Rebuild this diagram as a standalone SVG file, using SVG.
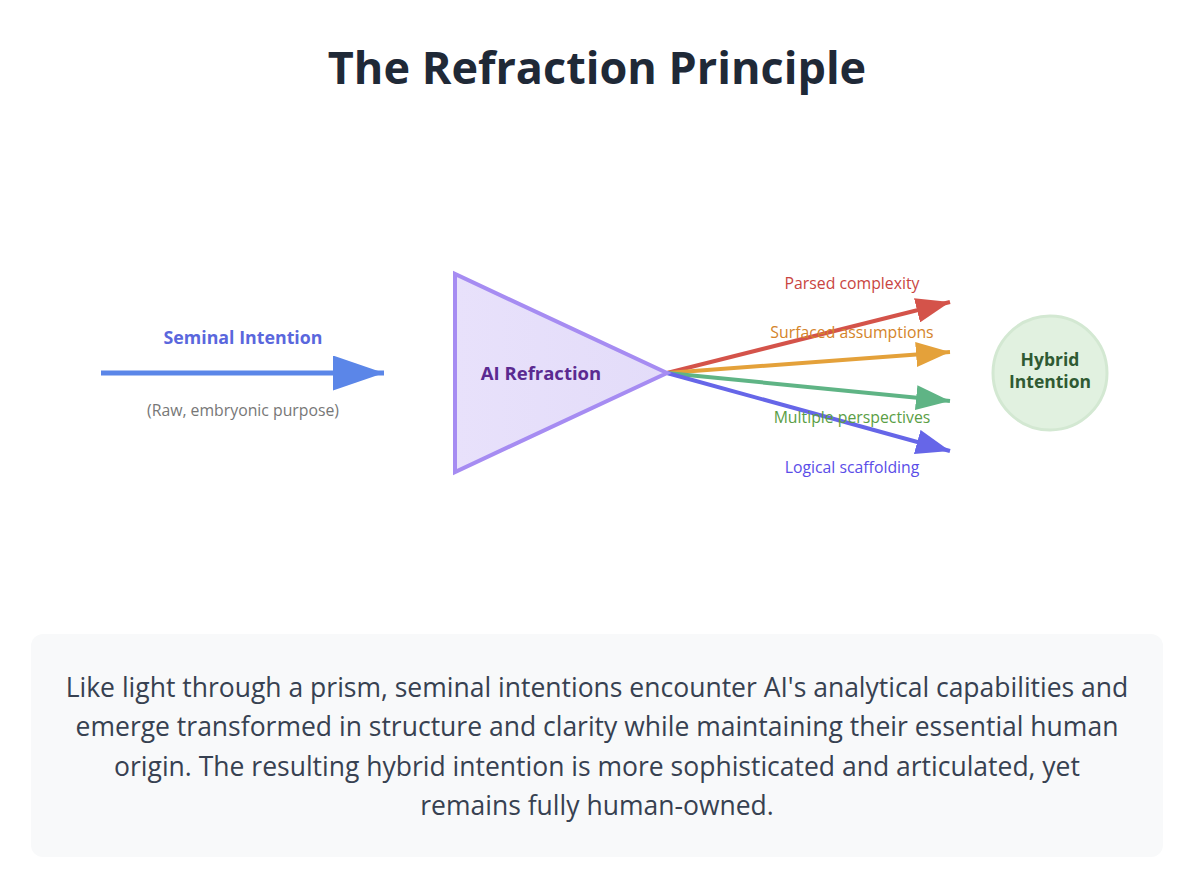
<svg xmlns="http://www.w3.org/2000/svg" width="1193" height="873" viewBox="0 0 1193 873">
<style>
text{font-family:"Open Sans","Noto Sans","Liberation Sans",sans-serif}
.title{font-size:45px;font-weight:700;fill:#1f2937}
.body{font-size:26.5px;fill:#374151}
.lbl{font-size:15.8px}
.b{font-weight:700}
</style>
<defs>
<linearGradient id="pg" x1="0" y1="0" x2="1" y2="0">
<stop offset="0" stop-color="#e8e1fb"/><stop offset="1" stop-color="#e3dcf9"/>
</linearGradient>
<marker id="mIn" markerUnits="userSpaceOnUse" markerWidth="51" markerHeight="35" refX="51" refY="17.5" orient="auto"><path d="M0,0L51,17.5L0,35Z" fill="#5b86e8"/></marker>
<marker id="mR" markerUnits="userSpaceOnUse" markerWidth="34" markerHeight="25" refX="34" refY="12.5" orient="auto"><path d="M0,0L34,12.5L0,25Z" fill="#d4534a"/></marker>
<marker id="mO" markerUnits="userSpaceOnUse" markerWidth="34" markerHeight="25" refX="34" refY="12.5" orient="auto"><path d="M0,0L34,12.5L0,25Z" fill="#e4a13a"/></marker>
<marker id="mG" markerUnits="userSpaceOnUse" markerWidth="34" markerHeight="25" refX="34" refY="12.5" orient="auto"><path d="M0,0L34,12.5L0,25Z" fill="#5fb485"/></marker>
<marker id="mB" markerUnits="userSpaceOnUse" markerWidth="34" markerHeight="25" refX="34" refY="12.5" orient="auto"><path d="M0,0L34,12.5L0,25Z" fill="#6666e8"/></marker>
</defs>
<rect width="1193" height="873" fill="#ffffff"/>
<text class="title" x="597" y="84" text-anchor="middle">The Refraction Principle</text>

<g id="connectors">
<line x1="101" y1="373" x2="384" y2="373" stroke="#5b86e8" stroke-width="5" marker-end="url(#mIn)"/>
<line x1="667" y1="373" x2="950" y2="302" stroke="#d4534a" stroke-width="4" marker-end="url(#mR)"/>
<line x1="667" y1="373" x2="950" y2="352" stroke="#e4a13a" stroke-width="4" marker-end="url(#mO)"/>
<line x1="667" y1="373" x2="950" y2="401" stroke="#5fb485" stroke-width="4" marker-end="url(#mG)"/>
<line x1="667" y1="373" x2="950" y2="451" stroke="#6666e8" stroke-width="4" marker-end="url(#mB)"/>
</g>

<g id="input-labels">
<text class="b" x="243" y="344" text-anchor="middle" font-size="17.8" fill="#5a67dd">Seminal Intention</text>
<text x="243" y="416" text-anchor="middle" font-size="15.8" fill="#777777">(Raw, embryonic purpose)</text>
</g>

<g id="prism">
<polygon points="455,274 455,472 667,373" fill="url(#pg)" stroke="#a68cf2" stroke-width="4"/>
<text class="b" x="541" y="380" text-anchor="middle" font-size="18.5" fill="#5b2a91">AI Refraction</text>
</g>

<g id="ray-labels">
<text class="lbl" x="852" y="289" text-anchor="middle" fill="#c9453f">Parsed complexity</text>
<text class="lbl" x="852" y="338" text-anchor="middle" fill="#d4842a">Surfaced assumptions</text>
<text class="lbl" x="852" y="423" text-anchor="middle" fill="#5a9e45">Multiple perspectives</text>
<text class="lbl" x="852" y="473" text-anchor="middle" fill="#5a4de8">Logical scaffolding</text>
</g>

<g id="hybrid">
<circle cx="1050" cy="373" r="57" fill="#e1f1e0" stroke="#d3e8d2" stroke-width="3"/>
<text class="b" x="1050" y="366" text-anchor="middle" font-size="17.5" fill="#2f5a32">Hybrid</text>
<text class="b" x="1050" y="388" text-anchor="middle" font-size="17.5" fill="#2f5a32">Intention</text>
</g>

<g id="caption">
<rect x="31" y="634" width="1132" height="223" rx="12" fill="#f8f9fa"/>
<text class="body" x="597" y="697" text-anchor="middle">Like light through a prism, seminal intentions encounter AI's analytical capabilities and</text>
<text class="body" x="597" y="736" text-anchor="middle">emerge transformed in structure and clarity while maintaining their essential human</text>
<text class="body" x="597" y="776" text-anchor="middle">origin. The resulting hybrid intention is more sophisticated and articulated, yet</text>
<text class="body" x="597" y="815" text-anchor="middle">remains fully human-owned.</text>
</g>
</svg>
